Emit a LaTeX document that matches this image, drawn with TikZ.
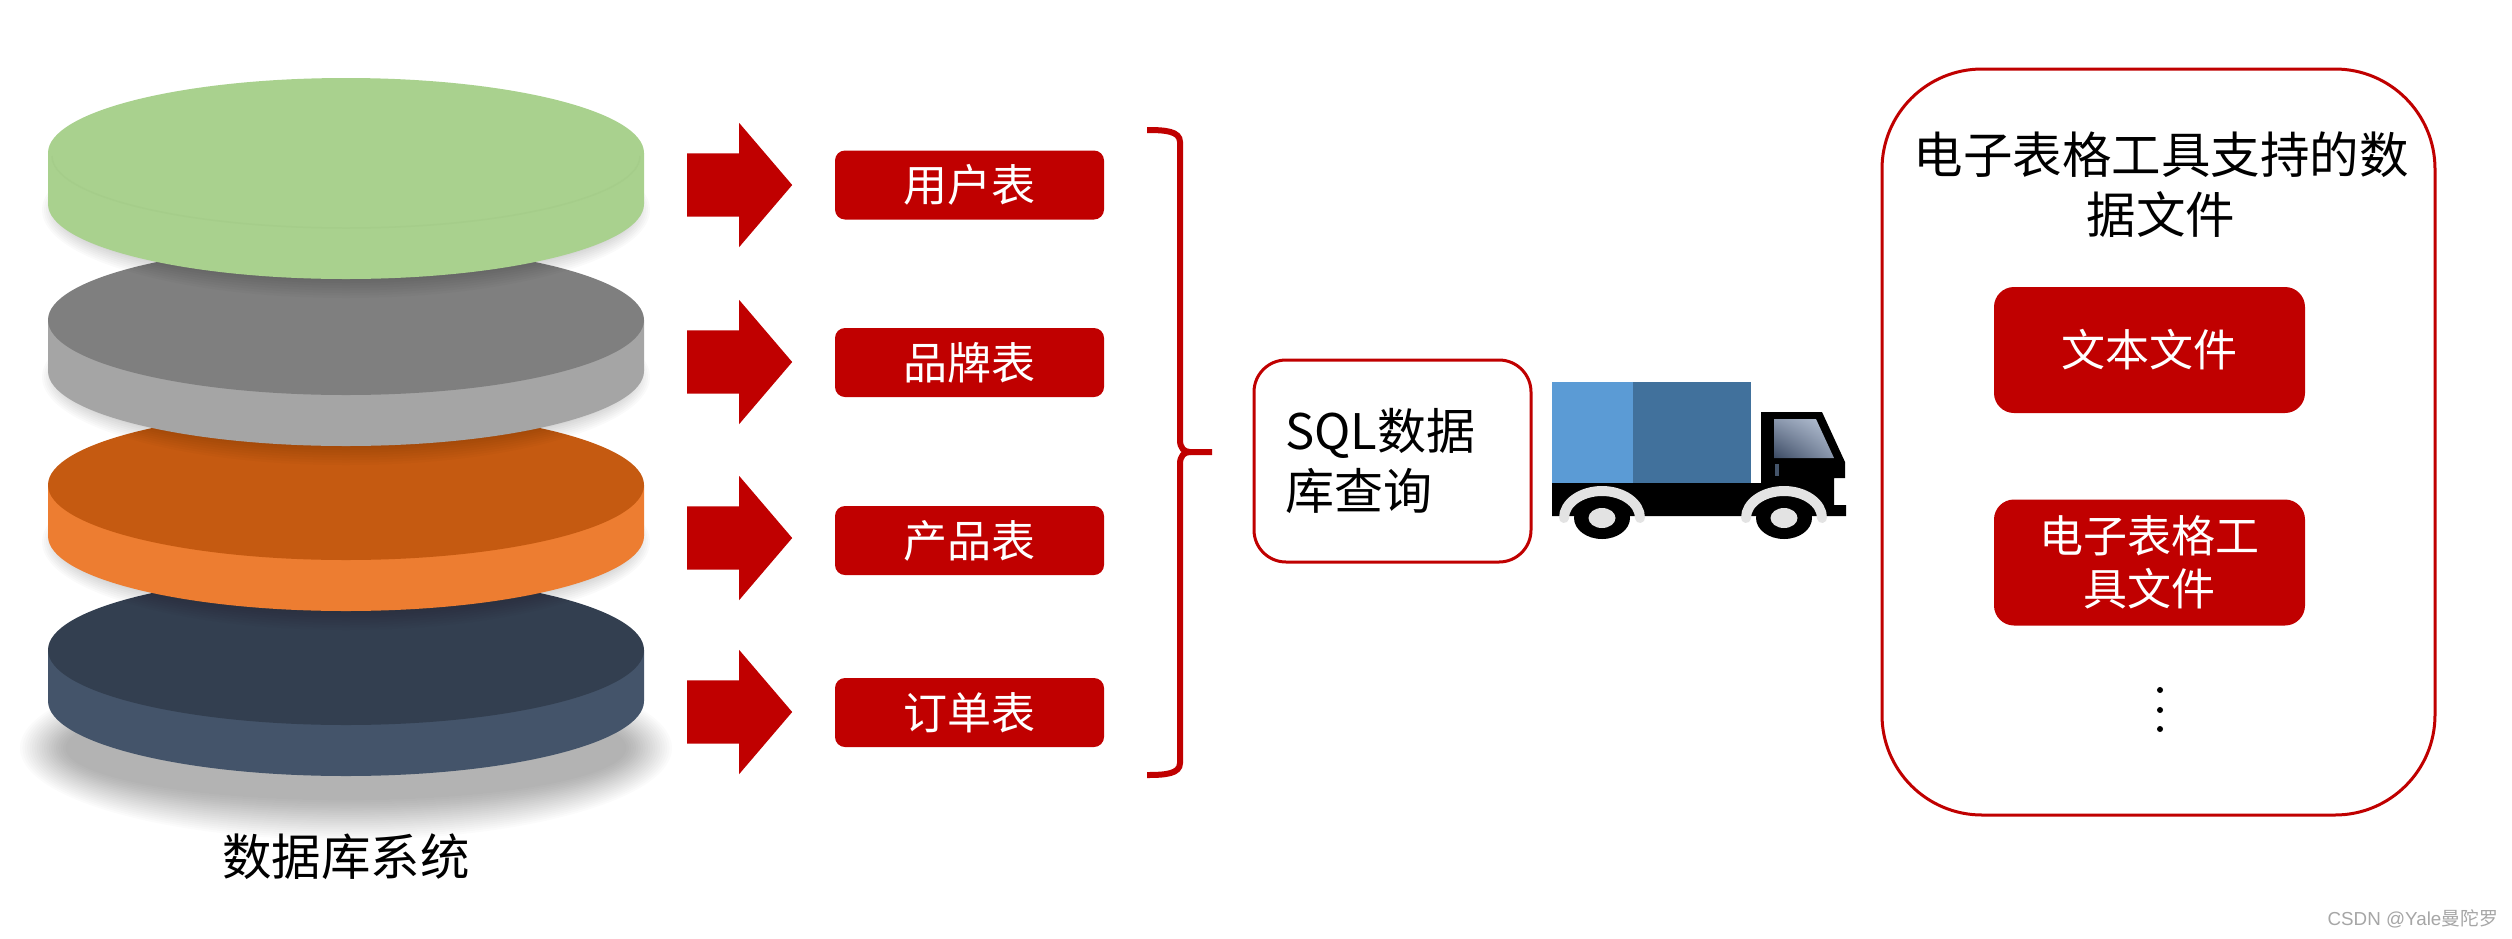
\documentclass[tikz,border=0pt]{standalone}
\usepackage{fontspec}
\setmainfont{Noto Sans CJK SC}
\newfontfamily\markfont{Liberation Sans}
\newfontfamily\markcjk{Noto Sans CJK SC}
\usepackage{tikz}
\usetikzlibrary{arrows,%
                shapes,shadings,positioning}
\definecolor{dbred}{HTML}{C00000}
\definecolor{fender}{HTML}{E3E3E3}
\definecolor{cargolight}{HTML}{5B9BD5}
\definecolor{cargodark}{HTML}{41719C}
\definecolor{glassdark}{HTML}{3B4A63}
\definecolor{glassmid}{HTML}{8A97AD}
\definecolor{glasslight}{HTML}{BAC6D8}
\definecolor{handle}{HTML}{44546A}
\definecolor{greenrim}{HTML}{A5CD8A}
\tikzset{
  tablebox/.style={fill=dbred, rounded corners=10pt, minimum width=269pt, minimum height=69pt,
    text=white, font=\fontsize{44}{52}\selectfont, inner sep=0pt},
  filebox/.style={fill=dbred, rounded corners=20pt, minimum width=311pt, minimum height=126pt,
    text=white, font=\fontsize{44}{53}\selectfont, inner sep=0pt, align=center},
  blockarrow/.style={single arrow, fill=dbred, minimum height=105pt, inner xsep=0pt, inner ysep=31.5pt,
    single arrow head extend=30.5pt, single arrow tip angle=99, shape border rotate=0, anchor=tail},
  redframe/.style={draw=dbred, line width=3pt, fill=white},
  bigtext/.style={font=\fontsize{49.5}{60}\selectfont, inner sep=0pt, align=center},
}
\begin{document}
\begin{tikzpicture}[x=1pt,y=-1pt]
\useasboundingbox (0,0) rectangle (2512,938);
\fill[white] (0,0) rectangle (2512,938);
% shadow under the stack
\foreach \s in {0,...,19}
  \fill[black,opacity=0.014] (346,748) ellipse ({326-\s*2.4} and {92-\s*2.1});
% disks from bottom to top
\foreach \y/\top/\side in {650/333F50/44546A,485/C55A11/ED7D31,320/7F7F7F/A5A5A5,153/A9D18E/A9D18E}{
  \definecolor{disktop}{HTML}{\top}
  \definecolor{diskside}{HTML}{\side}
  \ifnum\y=650\else
    \foreach \s in {0,...,8}
      \fill[black,opacity=0.02] (346,{\y+57}) ellipse ({304-\s*2} and {88-\s*2.5});
  \fi
  \fill[diskside] (48,\y) -- (48,{\y+51}) arc[start angle=180,end angle=360,x radius=298pt,y radius=75pt]
    -- (644,\y) -- cycle;
  \fill[disktop] (346,\y) ellipse (298 and 75);
}
\draw[greenrim,line width=1.5pt] (52,156) arc[start angle=180,end angle=360,x radius=294pt,y radius=72pt];
\node[bigtext] (dbname) at (346,857) {数据库系统};
% four tables
\node[blockarrow] (arrowuser) at (687,185) {};
\node[blockarrow] (arrowbrand) at (687,362) {};
\node[blockarrow] (arrowprod) at (687,538) {};
\node[blockarrow] (arroworder) at (687,712) {};
\node[tablebox] (user) at (969.5,185) {用户表};
\node[tablebox] (brand) at (969.5,362.5) {品牌表};
\node[tablebox] (prod) at (969.5,540.5) {产品表};
\node[tablebox] (order) at (969.5,712.5) {订单表};
% brace
\coordinate (bracetop) at (1147,130);
\coordinate (bracetip) at (1212,452);
\coordinate (bracebot) at (1147,775);
\draw[dbred,line width=6pt] (bracetop) .. controls (1165,130) and (1180,131) .. (1180,142)
  -- (1180,440) .. controls (1180,448) and (1184,452) .. (1190,452) -- (bracetip);
\draw[dbred,line width=6pt] (bracebot) .. controls (1165,775) and (1180,774) .. (1180,763)
  -- (1180,464) .. controls (1180,456) and (1184,452) .. (1190,452);
% query
\node[redframe, rounded corners=32pt, minimum width=277pt, minimum height=202pt] (query) at (1392.5,461) {};
\node[font=\fontsize{49}{60}\selectfont, inner sep=0pt, align=left, anchor=west] (querytext) at (1285,461) {SQL数据\\库查询};
% truck
\fill[black] (1552,483) -- (1761,483) -- (1761,412) -- (1822,412) -- (1845,462) -- (1845,478) -- (1834,478)
  -- (1834,505) -- (1846,505) -- (1846,516) -- (1552,516) -- cycle;
\fill[cargolight] (1552,382) rectangle (1633,483);
\fill[cargodark] (1633,382) rectangle (1751,483);
\shade[lower left=glassdark, upper right=glasslight, lower right=glassmid, upper left=glassmid]
  (1774,419) -- (1816,419) -- (1834,458) -- (1774,458) -- cycle;
\fill[handle] (1775,464) rectangle (1779,476);
\foreach \x in {1602,1784}{
  \draw[fender,line width=10pt,line cap=round] ({\x-38},518) arc[start angle=180,end angle=0,x radius=38pt,y radius=27pt];
  \fill[black] (\x,518) ellipse (28 and 21);
  \fill[fender] (\x,518) ellipse (13.5 and 10);
}
% spreadsheet files
\node[redframe, rounded corners=100pt, minimum width=553pt, minimum height=746pt] (filesframe) at (2158.5,442) {};
\node[bigtext] (filestitle) at (2161,184.5) {电子表格工具支持的数\\据文件};
\node[filebox] (textfile) at (2149.5,350) {文本文件};
\node[filebox] (sheetfile) at (2149.5,562.5) {电子表格工\\具文件};
\foreach \y in {690,710,729}
  \fill[black] (2160,\y) circle (3);
% corner mark
\node[font=\fontsize{18.8}{24}\selectfont, text=gray!70, inner sep=0pt, anchor=east] (mark) at (2498,919) {\markfont CSDN @Yale\markcjk 曼陀罗};
\end{tikzpicture}
\end{document}
